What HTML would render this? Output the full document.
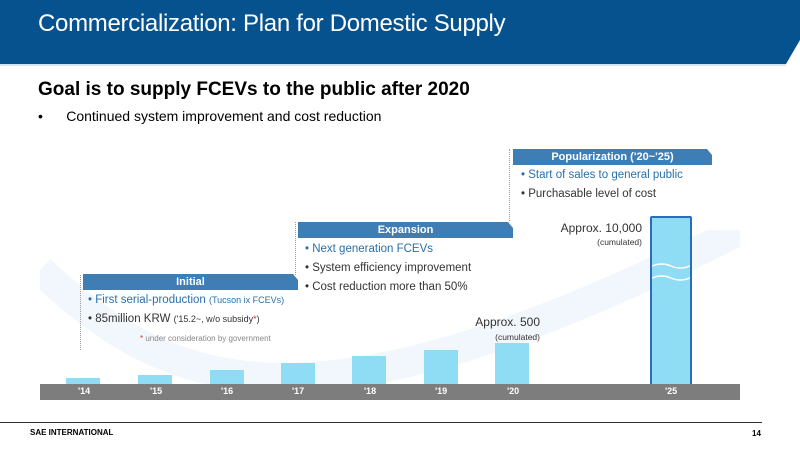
<!DOCTYPE html>
<html><head><meta charset="utf-8"><style>
body{margin:0;width:800px;height:450px;background:#fff;position:relative;overflow:hidden;font-family:"Liberation Sans",Arial,sans-serif}
.a{position:absolute;white-space:nowrap}
.hdr{position:absolute;height:16px;background:#3f7db5;color:#fff;font-weight:bold;font-size:11px;line-height:16px;text-align:center;clip-path:polygon(0 0,calc(100% - 5px) 0,100% 6px,100% 100%,0 100%)}
.dot{position:absolute;border-left:1px dotted #999;width:0}
.bar{position:absolute;background:#8fdcf5;width:34px}
.yl{position:absolute;top:386px;color:#fff;font-weight:bold;font-size:9px}
.b1{font-size:11.5px;color:#2a6fa8}
.b2{font-size:11.5px;color:#333}
</style></head><body>
<svg class="a" style="left:0;top:0" width="800" height="70"><polygon points="0,0 800,0 800,40 786,64 0,64" fill="#06528f"/><line x1="0" y1="65" x2="786" y2="65" stroke="#c5dbef" stroke-width="1.5"/></svg>
<div class="a" style="left:38px;top:10px;color:#fff;font-size:24px;letter-spacing:-0.3px">Commercialization: Plan for Domestic Supply</div>
<div class="a" style="left:38px;top:79px;font-size:19px;font-weight:bold;color:#000">Goal is to supply FCEVs to the public after 2020</div>
<div class="a" style="left:38px;top:108px;font-size:14px;color:#000">•&nbsp;&nbsp;&nbsp;&nbsp;&nbsp;&nbsp;Continued system improvement and cost reduction</div>
<svg class="a" style="left:40px;top:230px" width="700" height="160"><path d="M0,40 C120,150 250,230 700,0" stroke="#f1f7fc" stroke-width="30" fill="none"/></svg>
<div class="dot" style="left:80px;top:275px;height:75px"></div>
<div class="dot" style="left:295px;top:222px;height:53px"></div>
<div class="dot" style="left:509px;top:149px;height:72px"></div>
<div class="hdr" style="left:83px;top:274px;width:215px">Initial</div>
<div class="hdr" style="left:298px;top:222px;width:215px">Expansion</div>
<div class="hdr" style="left:513px;top:149px;width:199px">Popularization ('20~'25)</div>
<div class="a b1" style="left:88px;top:294px">• First serial-production <span style="font-size:9px">(Tucson ix FCEVs)</span></div>
<div class="a b2" style="left:88px;top:313px">• 85million KRW <span style="font-size:9px">('15.2~, w/o subsidy<span style="color:#c33">*</span>)</span></div>
<div class="a" style="left:140px;top:334px;font-size:8px;color:#888"><span style="color:#c33">*</span> under consideration by government</div>
<div class="a b1" style="left:305px;top:243px">• Next generation FCEVs</div>
<div class="a b2" style="left:305px;top:262px">• System efficiency improvement</div>
<div class="a b2" style="left:305px;top:281px">• Cost reduction more than 50%</div>
<div class="a b1" style="left:521px;top:169px">• Start of sales to general public</div>
<div class="a b2" style="left:521px;top:188px">• Purchasable level of cost</div>
<div class="a" style="right:260px;top:315px;font-size:12px;color:#333;text-align:right">Approx. 500<br><span style="font-size:8.5px">(cumulated)</span></div>
<div class="a" style="right:158px;top:222px;font-size:12px;color:#333;text-align:right;line-height:13px">Approx. 10,000<br><span style="font-size:8.5px">(cumulated)</span></div>
<div class="bar" style="left:66px;top:378px;height:6px"></div>
<div class="bar" style="left:138px;top:375px;height:9px"></div>
<div class="bar" style="left:210px;top:370px;height:14px"></div>
<div class="bar" style="left:281px;top:363px;height:21px"></div>
<div class="bar" style="left:352px;top:356px;height:28px"></div>
<div class="bar" style="left:424px;top:350px;height:34px"></div>
<div class="bar" style="left:495px;top:343px;height:41px"></div>
<div class="a" style="left:650px;top:216px;width:38px;height:166px;background:#8fdcf5;border:2px solid #2a6ebb;border-radius:2px"></div>
<svg class="a" style="left:652px;top:262px" width="38" height="24"><path d="M0,4 Q10,0 19,4 T38,4 M0,16 Q10,12 19,16 T38,16" stroke="#fff" stroke-width="1.5" fill="none"/></svg>
<div class="a" style="left:40px;top:384px;width:700px;height:16px;background:#7d7d7d"></div>
<div class="yl" style="left:78px">'14</div><div class="yl" style="left:150px">'15</div><div class="yl" style="left:221px">'16</div><div class="yl" style="left:292px">'17</div><div class="yl" style="left:364px">'18</div><div class="yl" style="left:435px">'19</div><div class="yl" style="left:507px">'20</div><div class="yl" style="left:665px">'25</div>
<div class="a" style="left:0;top:422px;width:762px;height:1px;background:#333"></div>
<div class="a" style="left:30px;top:428px;font-size:8px;font-weight:bold">SAE INTERNATIONAL</div>
<div class="a" style="left:752px;top:429px;font-size:8px;font-weight:bold">14</div>
</body></html>
